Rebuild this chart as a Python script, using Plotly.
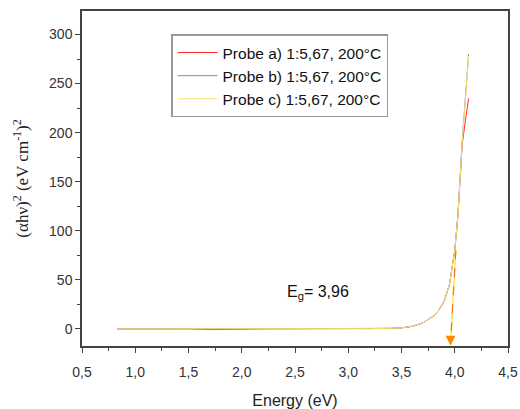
import plotly.graph_objects as go

energy_a = [0.83, 1.0, 1.05, 1.2, 1.5, 1.7, 1.8, 1.95, 2.2, 2.5, 2.8, 3.0, 3.2, 3.4, 3.5, 3.6, 3.7, 3.8, 3.85, 3.9, 3.95, 4.0, 4.03, 4.07, 4.1, 4.13]
probe_a = [0, 0, -0.5, 0, 0, -0.8, -0.8, -0.5, 0, 0, 0, 0, 0.2, 0.5, 1, 2.5, 6, 13, 19, 28, 45, 80, 115, 188, 212, 235]
energy_b = [0.83, 1.0, 1.2, 1.5, 1.7, 1.95, 2.2, 2.5, 2.8, 3.0, 3.2, 3.4, 3.5, 3.6, 3.7, 3.8, 3.85, 3.9, 3.95, 4.0, 4.03, 4.07, 4.1, 4.13]
probe_b = [0, 0, 0, 0, -0.5, -0.5, 0, 0, 0, 0, 0.2, 0.5, 1, 2.5, 6, 13, 19, 28, 45, 80, 117, 192, 236, 280]
probe_c = [0, 0, 0, 0, -0.5, -0.5, 0, 0, 0, 0, 0.2, 0.5, 1, 2.5, 6, 13, 19, 28, 45, 80, 116, 190, 234, 278]

tangent_x = [4.01, 3.96]
tangent_y = [80, -15]
eg_value = "3,96"

names = ["Probe a) 1:5,67, 200°C", "Probe b) 1:5,67, 200°C", "Probe c) 1:5,67, 200°C"]
colors = ["#ff2a2a", "#6f8fc8", "#ffe066"]

fig = go.Figure()
fig.add_trace(go.Scatter(x=energy_a, y=probe_a, mode="lines", name=names[0],
                         line=dict(color=colors[0], width=1)))
fig.add_trace(go.Scatter(x=energy_b, y=probe_b, mode="lines", name=names[1],
                         line=dict(color=colors[1], width=1)))
fig.add_trace(go.Scatter(x=energy_b, y=probe_c, mode="lines", name=names[2],
                         line=dict(color=colors[2], width=1)))
fig.add_trace(go.Scatter(x=tangent_x, y=tangent_y, mode="lines", showlegend=False,
                         line=dict(color="#ffee33", width=1.5)))
fig.add_trace(go.Scatter(x=tangent_x, y=tangent_y, mode="lines", showlegend=False,
                         line=dict(color="#ff6a3a", width=1.2, dash="dash")))
fig.add_annotation(x=tangent_x[1], y=-17, ax=tangent_x[1], ay=-6, xref="x", yref="y",
                   axref="x", ayref="y", showarrow=True, arrowhead=2, arrowsize=1.3,
                   arrowwidth=1.5, arrowcolor="#ff8800", text="")
fig.add_annotation(x=2.72, y=37, xref="x", yref="y", showarrow=False,
                   text="E<sub>g</sub>= " + eg_value,
                   font=dict(family="Liberation Sans, Arial", size=16, color="#111"))

axis_common = dict(showline=True, linecolor="#444", linewidth=1.5, mirror=True,
                   ticks="outside", ticklen=5, tickwidth=1.2, tickcolor="#444",
                   showgrid=False, zeroline=False, automargin=False,
                   tickfont=dict(family="Liberation Sans, Arial", size=14, color="#333"),
                   minor=dict(ticks="outside", ticklen=3, tickwidth=1, tickcolor="#444"))

fig.update_layout(
    width=520, height=409,
    margin=dict(l=82, r=12, t=11, b=63),
    paper_bgcolor="white", plot_bgcolor="white",
    separators=",.",
    xaxis=dict(range=[0.5, 4.5], dtick=0.5, tick0=0.5, tickformat=".1f",
               ticklabelstandoff=7,
               title=dict(text="Energy (eV)", font=dict(family="Liberation Sans, Arial", size=16, color="#222"),
                          standoff=16),
               **axis_common),
    yaxis=dict(range=[-17.5, 324], dtick=50, tick0=0,
               title=dict(text="(αhν)<sup>2</sup> (eV cm<sup>-1</sup>)<sup>2</sup>",
                          font=dict(family="Liberation Serif, Times New Roman", size=17, color="#222"),
                          standoff=16),
               **axis_common),
    legend=dict(x=0.209, y=0.93, xanchor="left", yanchor="top",
                bgcolor="white", bordercolor="#999", borderwidth=1.5,
                font=dict(family="Liberation Sans, Arial", size=15.5, color="#111"),
                tracegroupgap=0, itemwidth=40),
    showlegend=True,
)
fig.update_xaxes(minor=dict(dtick=0.25))
fig.update_yaxes(minor=dict(dtick=25))

fig.write_html("out.html")
